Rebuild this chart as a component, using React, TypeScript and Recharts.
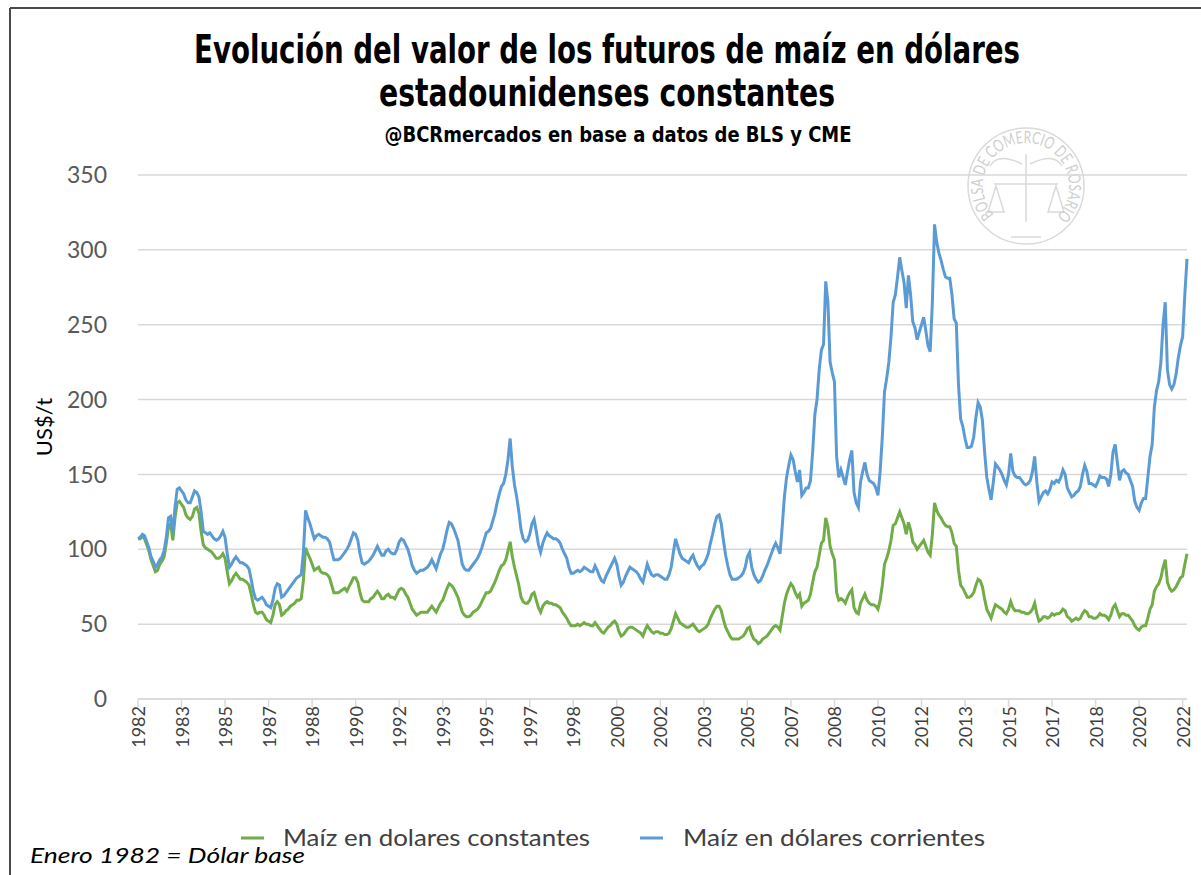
import { LineChart, Line, XAxis, YAxis, CartesianGrid } from 'recharts';

const startYear = 1982;
const yTicks = [0, 50, 100, 150, 200, 250, 300, 350];

// Maíz en dólares corrientes, US$/t, monthly from Jan 1982
const corrientes = [
  107, 108, 110, 109, 105, 101, 95, 92, 88, 90, 93, 95, // 1982
  99, 108, 121, 122, 111, 128, 140, 141, 139, 137, 133, 131, // 1983
  131, 135, 139, 138, 135, 125, 112, 111, 110, 111, 109, 107, // 1984
  106, 107, 109, 112, 108, 97, 88, 90, 93, 95, 93, 91, // 1985
  91, 90, 89, 87, 80, 72, 67, 66, 67, 68, 66, 63, // 1986
  62, 61, 66, 74, 77, 76, 68, 69, 71, 73, 75, 77, // 1987
  79, 81, 82, 83, 98, 126, 121, 117, 112, 107, 109, 110, // 1988
  109, 108, 108, 107, 105, 99, 93, 93, 93, 94, 96, 98, // 1989
  100, 103, 107, 111, 110, 106, 97, 91, 90, 91, 92, 94, // 1990
  96, 99, 102, 99, 96, 96, 99, 100, 98, 97, 97, 100, // 1991
  105, 107, 106, 103, 100, 95, 89, 86, 84, 85, 86, 86, // 1992
  87, 88, 90, 93, 90, 87, 92, 97, 100, 106, 113, 118, // 1993
  117, 114, 110, 106, 98, 90, 87, 86, 86, 88, 90, 92, // 1994
  94, 97, 101, 106, 111, 112, 114, 119, 124, 131, 137, 142, // 1995
  144, 150, 160, 174, 155, 143, 135, 125, 113, 107, 105, 106, // 1996
  110, 117, 120, 112, 103, 98, 104, 108, 111, 109, 108, 107, // 1997
  107, 106, 104, 100, 97, 94, 88, 84, 84, 85, 86, 85, // 1998
  86, 88, 87, 86, 85, 85, 89, 86, 82, 79, 78, 82, // 1999
  85, 88, 91, 94, 90, 82, 76, 78, 82, 85, 88, 87, // 2000
  86, 85, 83, 80, 78, 84, 90, 86, 83, 82, 83, 83, // 2001
  82, 81, 80, 80, 83, 88, 98, 107, 102, 97, 94, 93, // 2002
  92, 91, 94, 96, 92, 89, 87, 89, 90, 93, 97, 104, // 2003
  110, 117, 122, 123, 117, 106, 96, 89, 83, 80, 80, 80, // 2004
  81, 82, 84, 88, 95, 98, 88, 83, 80, 78, 79, 82, // 2005
  86, 89, 93, 97, 101, 104, 101, 97, 115, 135, 148, 156, // 2006
  163, 160, 152, 145, 153, 136, 138, 141, 141, 146, 165, 190, // 2007
  200, 220, 233, 237, 279, 265, 225, 218, 212, 162, 148, 153, // 2008
  148, 143, 152, 160, 166, 138, 131, 128, 145, 152, 158, 150, // 2009
  146, 145, 144, 141, 136, 152, 175, 205, 214, 225, 242, 265, // 2010
  270, 282, 295, 286, 278, 261, 283, 270, 252, 248, 240, 245, // 2011
  250, 255, 246, 236, 232, 265, 317, 305, 298, 293, 287, 282, // 2012
  281, 281, 270, 254, 251, 210, 187, 182, 174, 168, 168, 169, // 2013
  175, 188, 198, 195, 186, 165, 148, 140, 133, 145, 157, 155, // 2014
  153, 150, 146, 143, 150, 164, 152, 149, 148, 148, 146, 144, // 2015
  143, 144, 146, 152, 162, 145, 132, 135, 138, 139, 137, 140, // 2016
  145, 144, 146, 145, 148, 153, 150, 141, 138, 135, 136, 138, // 2017
  139, 142, 150, 156, 152, 144, 144, 143, 142, 145, 149, 148, // 2018
  148, 147, 142, 150, 165, 170, 158, 146, 152, 153, 151, 150, // 2019
  146, 142, 132, 128, 126, 131, 134, 134, 148, 162, 170, 195, // 2020
  206, 212, 225, 250, 265, 220, 210, 207, 210, 217, 228, 236, // 2021
  242, 270, 294, // 2022
];

// Maíz en dólares constantes (enero 1982 = dólar base)
const constantes = [
  107, 107, 109, 107, 103, 99, 93, 89, 85, 86, 90, 92, // 1982
  95, 104, 115, 117, 106, 121, 131, 132, 130, 128, 123, 121, // 1983
  120, 122, 127, 128, 124, 112, 103, 101, 100, 99, 98, 96, // 1984
  94, 94, 95, 97, 94, 85, 77, 79, 82, 84, 82, 80, // 1985
  80, 79, 78, 76, 70, 63, 58, 57, 58, 58, 56, 53, // 1986
  52, 51, 56, 63, 65, 63, 56, 57, 59, 60, 62, 63, // 1987
  64, 66, 66, 67, 79, 101, 97, 94, 90, 86, 87, 88, // 1988
  85, 84, 84, 83, 81, 76, 71, 71, 71, 72, 73, 74, // 1989
  72, 75, 78, 81, 81, 78, 71, 66, 65, 65, 65, 67, // 1990
  68, 70, 72, 70, 67, 67, 69, 70, 68, 68, 67, 70, // 1991
  73, 74, 73, 70, 68, 64, 60, 58, 56, 57, 58, 58, // 1992
  58, 58, 60, 62, 60, 58, 61, 64, 66, 70, 74, 77, // 1993
  76, 74, 71, 68, 63, 58, 56, 55, 55, 56, 58, 59, // 1994
  60, 62, 65, 68, 71, 71, 72, 75, 78, 82, 86, 89, // 1995
  90, 93, 99, 105, 95, 88, 82, 76, 68, 65, 64, 64, // 1996
  66, 70, 71, 66, 61, 58, 62, 64, 65, 64, 64, 63, // 1997
  63, 62, 61, 58, 56, 54, 51, 49, 49, 49, 50, 49, // 1998
  50, 51, 50, 50, 49, 49, 51, 49, 47, 45, 44, 46, // 1999
  48, 49, 51, 52, 50, 45, 42, 43, 45, 47, 48, 48, // 2000
  47, 46, 45, 44, 42, 46, 49, 47, 45, 44, 45, 45, // 2001
  44, 44, 43, 43, 44, 47, 52, 57, 54, 51, 50, 49, // 2002
  48, 48, 49, 50, 48, 46, 45, 46, 47, 48, 50, 54, // 2003
  57, 60, 62, 62, 59, 53, 48, 45, 42, 40, 40, 40, // 2004
  40, 41, 42, 44, 47, 48, 43, 40, 39, 37, 38, 40, // 2005
  41, 42, 44, 46, 48, 49, 48, 46, 55, 64, 70, 74, // 2006
  77, 75, 71, 68, 70, 62, 64, 65, 66, 70, 78, 85, // 2007
  88, 96, 104, 106, 121, 115, 102, 97, 93, 71, 66, 67, // 2008
  66, 64, 68, 71, 73, 61, 58, 57, 64, 67, 70, 66, // 2009
  64, 63, 63, 62, 60, 66, 76, 90, 94, 99, 106, 116, // 2010
  117, 121, 125, 121, 117, 110, 118, 113, 105, 103, 100, 102, // 2011
  104, 106, 102, 98, 96, 110, 131, 126, 123, 121, 118, 116, // 2012
  115, 115, 111, 104, 102, 86, 76, 74, 71, 68, 68, 69, // 2013
  71, 76, 80, 79, 75, 67, 60, 57, 54, 59, 63, 62, // 2014
  61, 60, 58, 57, 60, 65, 61, 59, 59, 59, 58, 58, // 2015
  57, 57, 58, 60, 64, 57, 52, 53, 55, 55, 54, 55, // 2016
  57, 56, 57, 57, 58, 60, 59, 55, 54, 52, 53, 54, // 2017
  53, 54, 57, 59, 58, 55, 55, 54, 54, 55, 57, 56, // 2018
  56, 55, 53, 56, 61, 63, 59, 55, 57, 57, 56, 56, // 2019
  54, 52, 49, 47, 46, 48, 49, 49, 54, 60, 63, 72, // 2020
  75, 77, 81, 88, 93, 78, 74, 72, 73, 75, 78, 81, // 2021
  82, 90, 97, // 2022
];

const months = corrientes.map((_, i) => `${startYear + Math.floor(i / 12)}-${String((i % 12) + 1).padStart(2, '0')}`);

const data = months.map((month, i) => ({
  month,
  constantes: constantes[i],
  corrientes: corrientes[i],
}));

const GREEN = '#70ad47';
const BLUE = '#5b9bd5';
const TEXT_FONT = 'Lato, "Open Sans", sans-serif';
const TITLE_FONT = '"Liberation Sans Narrow", "DejaVu Sans Condensed", "Liberation Sans", sans-serif';

function YearTick({ x, y, payload }: any) {
  return (
    <text
      transform={`translate(${x},${y - 3}) rotate(-90)`}
      textAnchor="end"
      dominantBaseline="central"
      fontSize={18}
      fontFamily={TEXT_FONT}
      fill="#404040"
    >
      {String(payload.value).slice(0, 4)}
    </text>
  );
}

function Decorations() {
  const cx = 1026;
  const cy = 186;
  const r = 43;
  const a1 = (138 * Math.PI) / 180;
  const a2 = (44 * Math.PI) / 180;
  const arc = `M ${cx + r * Math.cos(a1)} ${cy + r * Math.sin(a1)} A ${r} ${r} 0 1 1 ${cx + r * Math.cos(a2)} ${cy + r * Math.sin(a2)}`;
  return (
    <svg width={1201} height={875} style={{ position: 'absolute', left: 0, top: 0 }}>
      <line x1={10} y1={8} x2={1201} y2={8} stroke="#4a4a4a" strokeWidth={2} />
      <line x1={10} y1={8} x2={10} y2={875} stroke="#4a4a4a" strokeWidth={2} />

      <g fill="#000" fontFamily={TITLE_FONT} fontWeight="bold" textAnchor="middle">
        <text transform="translate(607,63) scale(1,1.15)" x={0} y={0} fontSize={34} textLength={826} lengthAdjust="spacingAndGlyphs">
          Evolución del valor de los futuros de maíz en dólares
        </text>
        <text transform="translate(607,106) scale(1,1.15)" x={0} y={0} fontSize={34} textLength={456} lengthAdjust="spacingAndGlyphs">
          estadounidenses constantes
        </text>
        <text x={618} y={142} fontSize={21} textLength={467} lengthAdjust="spacingAndGlyphs">
          @BCRmercados en base a datos de BLS y CME
        </text>
      </g>

      <g stroke="#dadada" fill="none" strokeWidth={1.5}>
        <circle cx={cx} cy={cy} r={58} />
        <line x1={cx - 15} y1={cy + 51} x2={cx + 15} y2={cy + 51} />
        <line x1={cx} y1={cy - 32} x2={cx} y2={cy + 36} />
        <line x1={cx - 32} y1={cy - 2} x2={cx + 32} y2={cy - 2} />
        <path d={`M ${cx - 30} ${cy} L ${cx - 38} ${cy + 26} L ${cx - 22} ${cy + 26} Z`} />
        <path d={`M ${cx + 30} ${cy} L ${cx + 22} ${cy + 26} L ${cx + 38} ${cy + 26} Z`} />
        <path d={`M ${cx - 4} ${cy - 22} Q ${cx - 28} ${cy - 34} ${cx - 36} ${cy - 20}`} />
        <path d={`M ${cx + 4} ${cy - 22} Q ${cx + 28} ${cy - 34} ${cx + 36} ${cy - 20}`} />
        <path id="sealArc" d={arc} stroke="none" />
      </g>
      <text fontSize={17} fill="#cfcfcf" fontFamily={TEXT_FONT}>
        <textPath href="#sealArc" textLength={200} lengthAdjust="spacingAndGlyphs">
          BOLSA DE COMERCIO DE ROSARIO
        </textPath>
      </text>

      <text
        transform="translate(52,427) rotate(-90)"
        textAnchor="middle"
        fontSize={22}
        fontFamily={TEXT_FONT}
        fill="#000"
      >
        US$/t
      </text>

      <line x1={241} y1={838} x2={264} y2={838} stroke={GREEN} strokeWidth={3} />
      <text x={283} y={846} fontSize={23} fontFamily={TEXT_FONT} fill="#404040" textLength={307} lengthAdjust="spacingAndGlyphs">
        Maíz en dolares constantes
      </text>
      <line x1={640} y1={838} x2={663} y2={838} stroke={BLUE} strokeWidth={3} />
      <text x={683} y={846} fontSize={23} fontFamily={TEXT_FONT} fill="#404040" textLength={302} lengthAdjust="spacingAndGlyphs">
        Maíz en dólares corrientes
      </text>

      <text x={30} y={863} fontSize={22} fontStyle="italic" fontFamily={TEXT_FONT} fill="#000" textLength={275} lengthAdjust="spacingAndGlyphs">
        Enero 1982 = Dólar base
      </text>
    </svg>
  );
}

export default function App() {
  return (
    <div
      style={{
        position: 'absolute',
        left: 0,
        top: 0,
        width: 1201,
        height: 875,
        background: '#fff',
        overflow: 'hidden',
        fontFamily: TEXT_FONT,
      }}
    >
      <Decorations />
      <div style={{ position: 'absolute', left: 0, top: 0 }}>
        <LineChart width={1201} height={875} data={data} margin={{ top: 175, right: 14, bottom: 116, left: 78 }}>
          <CartesianGrid vertical={false} stroke="#d9d9d9" strokeWidth={1.5} />
          <XAxis
            dataKey="month"
            interval={19}
            height={60}
            tickSize={8}
            tickMargin={2}
            axisLine={{ stroke: '#d9d9d9', strokeWidth: 1.5 }}
            tickLine={{ stroke: '#d9d9d9', strokeWidth: 1.5 }}
            tick={<YearTick />}
          />
          <YAxis
            type="number"
            domain={[0, 350]}
            ticks={yTicks}
            width={60}
            axisLine={false}
            tickLine={false}
            tickSize={0}
            tickMargin={31}
            tick={{ fontSize: 23, fill: '#595959', fontFamily: TEXT_FONT }}
          />
          <Line
            type="linear"
            dataKey="constantes"
            stroke={GREEN}
            strokeWidth={3}
            dot={false}
            isAnimationActive={false}
          />
          <Line
            type="linear"
            dataKey="corrientes"
            stroke={BLUE}
            strokeWidth={3}
            dot={false}
            isAnimationActive={false}
          />
        </LineChart>
      </div>
    </div>
  );
}
